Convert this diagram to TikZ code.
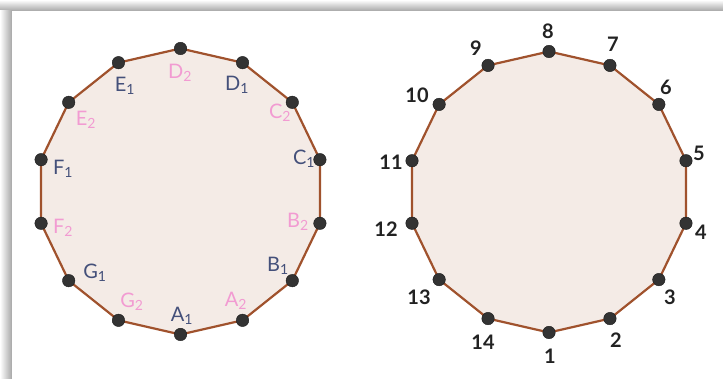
\documentclass[tikz,border=0pt]{standalone}
\usepackage{fontspec}
\setmainfont{Lato}
\definecolor{polyfill}{HTML}{F4EBE6}
\definecolor{polyline}{HTML}{A0522D}
\definecolor{dotc}{HTML}{333333}
\definecolor{blu}{HTML}{44507A}
\definecolor{pnk}{HTML}{F29BD2}
\definecolor{numc}{HTML}{222222}
\newcommand{\lbl}[2]{#1\textsubscript{#2}}
\tikzset{
  poly/.style={fill=polyfill, draw=polyline, line width=2.2pt, line join=round},
  vdot/.style={circle, fill=dotc, draw=black!90, line width=0.4pt, inner sep=0pt, minimum size=12.5pt},
  lab/.style={inner sep=0pt, font=\fontsize{20}{20}\selectfont},
  one/.style={lab, text=blu},
  two/.style={lab, text=pnk},
  num/.style={lab, text=numc, font=\fontsize{20}{20}\selectfont\bfseries},
}
\begin{document}
\begin{tikzpicture}[x=1pt,y=1pt]
\useasboundingbox (0,0) rectangle (723,379);
\fill[white] (0,0) rectangle (723,379);
\shade[top color=white, bottom color=black!35] (0,368) rectangle (723,379);
\shade[left color=white, right color=black!35] (0,0) rectangle (12,368);
\fill[white] (12,0) rectangle (723,368);
% left polygon
\foreach \i in {0,...,13}
  \coordinate (La\i) at ({180.5+143*cos(-90+\i*360/14)},{187.5+143*sin(-90+\i*360/14)});
\path[poly] (La0) \foreach \i in {1,...,13}{ -- (La\i)} -- cycle;
\foreach \i in {0,...,13} \node[vdot] (L\i) at (La\i) {};
% right polygon
\foreach \i in {0,...,13}
  \coordinate (Ra\i) at ({549+140.5*cos(-90+\i*360/14)},{187+140.5*sin(-90+\i*360/14)});
\path[poly] (Ra0) \foreach \i in {1,...,13}{ -- (Ra\i)} -- cycle;
\foreach \i in {0,...,13} \node[vdot] (R\i) at (Ra\i) {};
% left labels (screen y -> 379 - y)
\node[one] (tA1) at (182,63) {\lbl{A}{1}};
\node[two] (tA2) at (236,78) {\lbl{A}{2}};
\node[one] (tB1) at (278,113) {\lbl{B}{1}};
\node[two] (tB2) at (298,157) {\lbl{B}{2}};
\node[one] (tC1) at (304,220) {\lbl{C}{1}};
\node[two] (tC2) at (280,266) {\lbl{C}{2}};
\node[one] (tD1) at (237,294) {\lbl{D}{1}};
\node[two] (tD2) at (180,306) {\lbl{D}{2}};
\node[one] (tE1) at (125,293) {\lbl{E}{1}};
\node[two] (tE2) at (86,259) {\lbl{E}{2}};
\node[one] (tF1) at (63,210) {\lbl{F}{1}};
\node[two] (tF2) at (63,151) {\lbl{F}{2}};
\node[one] (tG1) at (95,106) {\lbl{G}{1}};
\node[two] (tG2) at (132,77) {\lbl{G}{2}};
% right labels
\node[num] (n1) at (550,23) {1};
\node[num] (n2) at (616,39) {2};
\node[num] (n3) at (670,82) {3};
\node[num] (n4) at (701,147) {4};
\node[num] (n5) at (699,226) {5};
\node[num] (n6) at (666,292) {6};
\node[num] (n7) at (613,335) {7};
\node[num] (n8) at (548,348) {8};
\node[num] (n9) at (476,331) {9};
\node[num] (n10) at (417,284) {10};
\node[num] (n11) at (391,217) {11};
\node[num] (n12) at (386,150) {12};
\node[num] (n13) at (419,82) {13};
\node[num] (n14) at (483,37) {14};
\end{tikzpicture}
\end{document}
